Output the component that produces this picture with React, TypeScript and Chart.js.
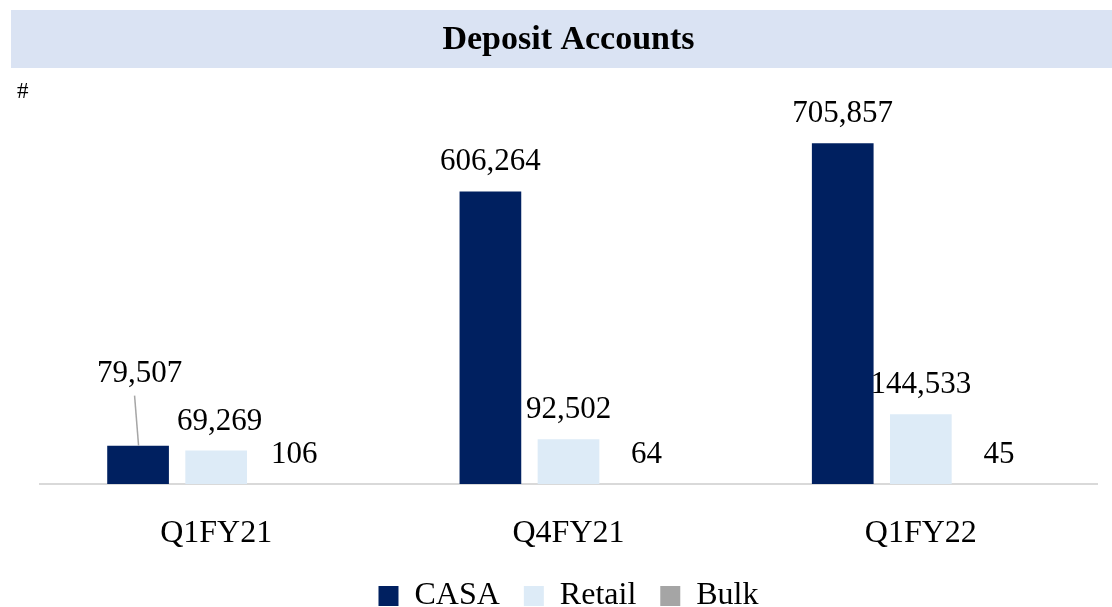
import { useEffect, useRef } from 'react';
import { Chart, registerables } from 'chart.js';

Chart.register(...registerables);

const categories = ['Q1FY21', 'Q4FY21', 'Q1FY22'];
const seriesNames = ['CASA', 'Retail', 'Bulk'];
const casaValues = [79507, 606264, 705857];
const retailValues = [69269, 92502, 144533];
const bulkValues = [106, 64, 45];
const titleText = 'Deposit Accounts';
const unitLabel = '#';

const FONT = '"Liberation Serif", "Times New Roman", serif';
const COLORS = ['#002060', '#DDEBF7', '#A5A5A5'];

const bandPlugin = {
  id: 'titleBand',
  beforeDraw(chart: any) {
    const ctx = chart.ctx;
    ctx.save();
    ctx.fillStyle = '#DAE3F3';
    ctx.fillRect(11, 10, chart.width - 11, 58);
    ctx.fillStyle = '#000';
    ctx.font = `23px ${FONT}`;
    ctx.textAlign = 'left';
    ctx.textBaseline = 'alphabetic';
    ctx.fillText(unitLabel, 17, 98);
    ctx.restore();
  },
};

const valueLabelPlugin = {
  id: 'valueLabels',
  afterDatasetsDraw(chart: any) {
    const ctx = chart.ctx;
    ctx.save();
    ctx.font = `31px ${FONT}`;
    ctx.fillStyle = '#000';
    ctx.textAlign = 'center';
    ctx.textBaseline = 'alphabetic';
    chart.data.datasets.forEach((ds: any, di: number) => {
      const meta = chart.getDatasetMeta(di);
      meta.data.forEach((el: any, i: number) => {
        const v = ds.data[i] as number;
        const text = v.toLocaleString('en-US');
        let x = el.x;
        let y = el.y - 21;
        if (di === 0 && i === 0) {
          // raised label with leader line
          x = el.x + 1.5;
          y = el.y - 64;
          ctx.save();
          ctx.strokeStyle = '#A6A6A6';
          ctx.lineWidth = 1.5;
          ctx.beginPath();
          ctx.moveTo(el.x - 3.5, y + 14);
          ctx.lineTo(el.x + 0.5, el.y);
          ctx.stroke();
          ctx.restore();
        }
        if (di === 1 && i === 0) x = el.x + 3.5;
        ctx.fillText(text, x, y);
      });
    });
    ctx.restore();
  },
};

export default function App() {
  const canvasRef = useRef<HTMLCanvasElement | null>(null);

  useEffect(() => {
    if (!canvasRef.current) return;
    Chart.defaults.color = '#000';
    const chart = new Chart(canvasRef.current, {
      type: 'bar',
      data: {
        labels: categories,
        datasets: [
          { label: seriesNames[0], data: casaValues, backgroundColor: COLORS[0] },
          { label: seriesNames[1], data: retailValues, backgroundColor: COLORS[1] },
          { label: seriesNames[2], data: bulkValues, backgroundColor: COLORS[2] },
        ],
      },
      options: {
        animation: false,
        responsive: true,
        maintainAspectRatio: false,
        layout: { padding: { left: 40, right: 15, top: 0, bottom: 0 } },
        datasets: {
          bar: { categoryPercentage: 0.665, barPercentage: 0.79 },
        },
        plugins: {
          title: {
            display: true,
            text: titleText,
            fullSize: false,
            color: '#000',
            font: { family: FONT, size: 34, weight: 'bold' },
            padding: { top: 20, bottom: 40 },
          },
          legend: {
            display: true,
            position: 'bottom',
            fullSize: false,
            labels: {
              boxWidth: 20,
              boxHeight: 20,
              padding: 24,
              color: '#000',
              font: { family: FONT, size: 32 },
            },
          },
          tooltip: { enabled: false },
        },
        scales: {
          x: {
            grid: { display: false },
            border: { display: true, color: '#D9D9D9', width: 2 },
            ticks: { color: '#000', font: { family: FONT, size: 32 }, padding: 22 },
            afterFit: (scale: any) => {
              scale.height -= 18.4;
            },
          },
          y: {
            display: false,
            min: 0,
            max: 794000,
          },
        },
      },
      plugins: [bandPlugin, valueLabelPlugin],
    });
    return () => chart.destroy();
  }, []);

  return (
    <div style={{ position: 'fixed', left: 0, top: 0, width: 1112, height: 607, overflow: 'hidden', background: '#fff' }}>
      <div style={{ position: 'relative', width: 1112, height: 622 }}>
        <canvas ref={canvasRef} />
      </div>
    </div>
  );
}
